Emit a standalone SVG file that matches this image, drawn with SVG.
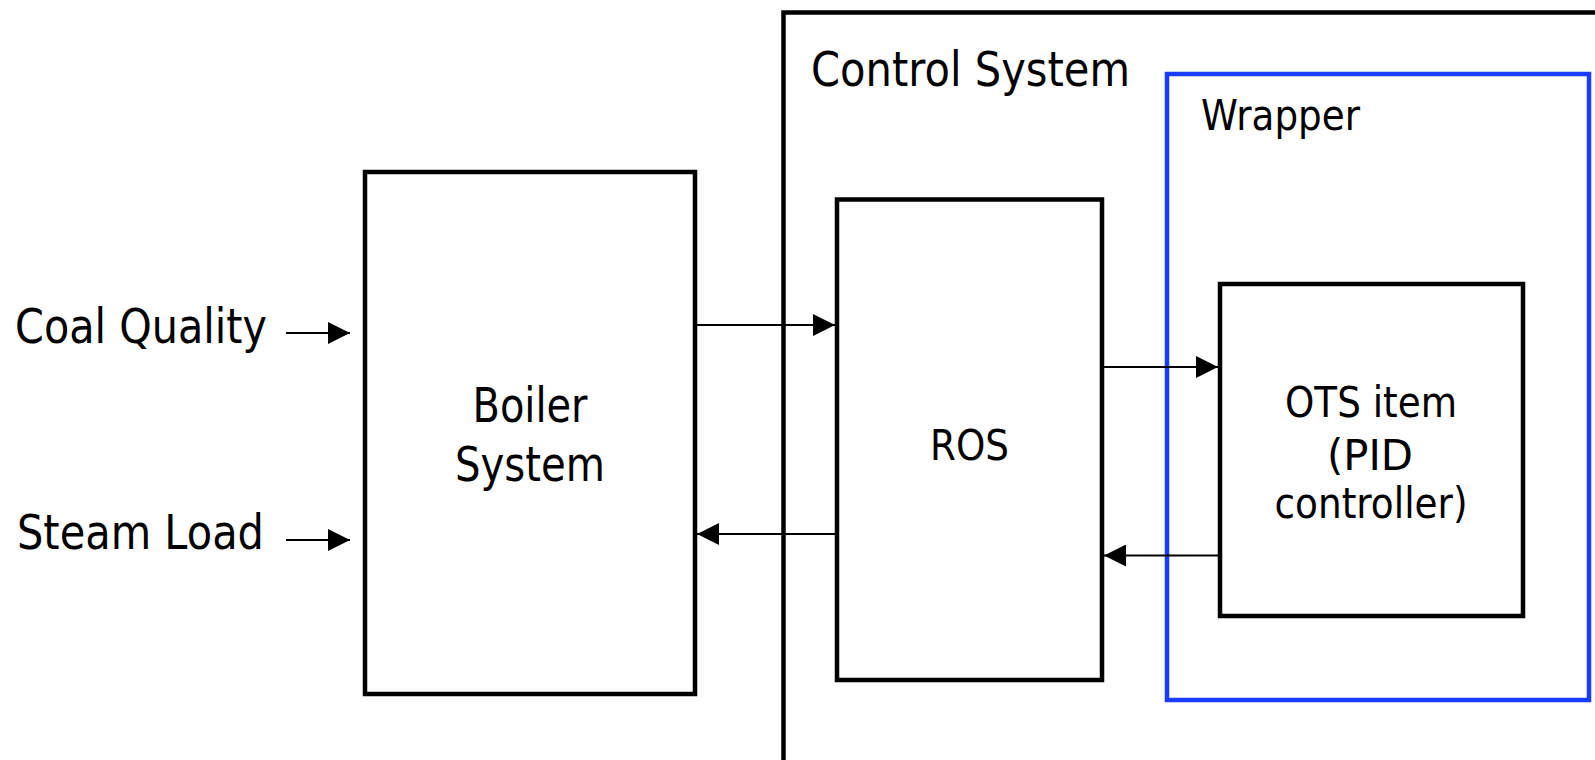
<svg xmlns="http://www.w3.org/2000/svg" width="1595" height="760" viewBox="0 0 1595 760">
  <style>
    .box { fill: none; stroke: #000; stroke-width: 4.5; }
    .wrap { fill: none; stroke: #1a3cff; stroke-width: 4.5; }
    .lbl { font-family: "DejaVu Sans", "Liberation Sans", sans-serif; fill: #000; }
    .big { font-size: 48px; }
    .sm { font-size: 43px; }
    .c { text-anchor: middle; }
    .conn { stroke: #000; stroke-width: 2; fill: none; marker-end: url(#ah); }
  </style>
  <defs>
    <marker id="ah" markerUnits="userSpaceOnUse" markerWidth="22" markerHeight="22" refX="22" refY="11" orient="auto">
      <path d="M0,0 L22,11 L0,22 Z" fill="#000"/>
    </marker>
  </defs>
  <rect width="1595" height="760" fill="#fff"/>

  <g id="control-system">
    <path class="box" d="M783.5,770 V12.5 H1600"/>
    <text class="lbl big" x="811" y="86" textLength="319" lengthAdjust="spacingAndGlyphs">Control System</text>
  </g>

  <g id="wrapper">
    <rect class="wrap" x="1167" y="74" width="422" height="626"/>
    <text class="lbl sm" x="1201" y="130" textLength="159" lengthAdjust="spacingAndGlyphs">Wrapper</text>
  </g>

  <g id="boiler-system">
    <rect class="box" x="365" y="172" width="330" height="522"/>
    <text class="lbl big c" x="530" y="422" textLength="115" lengthAdjust="spacingAndGlyphs">Boiler</text>
    <text class="lbl big c" x="530" y="481" textLength="150" lengthAdjust="spacingAndGlyphs">System</text>
  </g>

  <g id="ros">
    <rect class="box" x="837" y="199.5" width="265" height="480.5"/>
    <text class="lbl sm c" x="969.5" y="460" textLength="79" lengthAdjust="spacingAndGlyphs">ROS</text>
  </g>

  <g id="ots-item">
    <rect class="box" x="1220" y="284" width="303" height="332"/>
    <text class="lbl sm c" x="1371" y="417" textLength="172" lengthAdjust="spacingAndGlyphs">OTS item</text>
    <text class="lbl sm c" x="1370" y="470" textLength="86" lengthAdjust="spacingAndGlyphs">(PID</text>
    <text class="lbl sm c" x="1371" y="518" textLength="193" lengthAdjust="spacingAndGlyphs">controller)</text>
  </g>

  <g id="coal-quality">
    <text class="lbl big" x="15" y="343" textLength="252" lengthAdjust="spacingAndGlyphs">Coal Quality</text>
  </g>

  <g id="steam-load">
    <text class="lbl big" x="17" y="549" textLength="247" lengthAdjust="spacingAndGlyphs">Steam Load</text>
  </g>

  <g id="connectors">
    <line class="conn" x1="286" y1="333" x2="350" y2="333"/>
    <line class="conn" x1="286" y1="540" x2="350" y2="540"/>
    <line class="conn" x1="693" y1="325" x2="835" y2="325"/>
    <line class="conn" x1="835" y1="534" x2="697" y2="534"/>
    <line class="conn" x1="1104" y1="367" x2="1218" y2="367"/>
    <line class="conn" x1="1218" y1="555.5" x2="1104" y2="555.5"/>
  </g>
</svg>
